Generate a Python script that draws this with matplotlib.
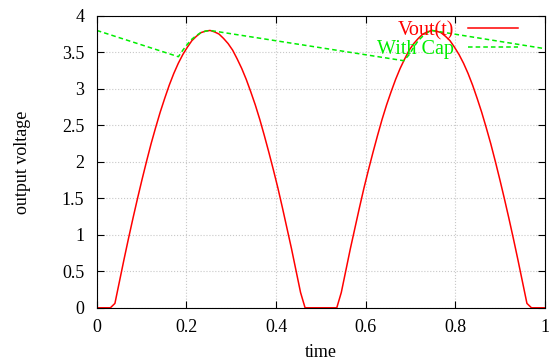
import matplotlib
matplotlib.use("Agg")
import matplotlib.pyplot as plt

plt.rcParams['font.family'] = ['Liberation Serif', 'DejaVu Serif']

# Vout(t) samples (100 points over 0..1)
t = [i / 99 for i in range(100)]
vout_half = [0, 0, 0, 0, 0.06, 0.36, 0.66, 0.95, 1.23, 1.50,
             1.76, 2.01, 2.25, 2.47, 2.68, 2.87, 3.05, 3.21, 3.35, 3.47,
             3.57, 3.66, 3.72, 3.77, 3.79, 3.80, 3.78, 3.75, 3.69, 3.62,
             3.53, 3.41, 3.28, 3.13, 2.96, 2.78, 2.58, 2.36, 2.13, 1.89,
             1.64, 1.37, 1.09, 0.81, 0.51, 0.21, 0, 0, 0, 0]
vout = vout_half + vout_half[::-1]

# capacitor-smoothed output
cap_t = [0.0, 0.182, 0.192, 0.202, 0.212, 0.222, 0.232, 0.242, 0.2525,
         0.685, 0.697, 0.707, 0.717, 0.727, 0.737, 0.747, 1.0]
cap_v = [3.80, 3.44, 3.53, 3.61, 3.68, 3.73, 3.77, 3.79, 3.80,
         3.385, 3.47, 3.57, 3.66, 3.72, 3.77, 3.80, 3.55]

fig, ax = plt.subplots(figsize=(5.5, 3.6), dpi=100)
fig.subplots_adjust(left=0.176, right=0.991, top=0.956, bottom=0.145)

ax.plot(t, vout, color='#ff0000', lw=1.1, label='Vout(t)')
ax.plot(cap_t, cap_v, color='#00ee00', lw=1.1, ls=(0, (3, 2)), label='With Cap')

ax.set_xlim(0, 1)
ax.set_ylim(0, 4)
ax.set_xticks([0, 0.2, 0.4, 0.6, 0.8, 1])
ax.set_xticklabels(['0', '0.2', '0.4', '0.6', '0.8', '1'])
ax.set_yticks([0, 0.5, 1, 1.5, 2, 2.5, 3, 3.5, 4])
ax.set_yticklabels(['0', '0.5', '1', '1.5', '2', '2.5', '3', '3.5', '4'])
ax.tick_params(direction='in', top=True, right=True, labelsize=13, length=5)
ax.tick_params(axis='y', pad=9)
ax.tick_params(axis='x', pad=8)
ax.grid(True, color='#c8c8c8', ls=':', lw=0.8)

ax.set_xlabel('time', fontsize=13, labelpad=6)
ax.set_ylabel('output voltage', fontsize=13, labelpad=22)

leg = ax.legend(loc='upper right', bbox_to_anchor=(0.945, 0.99), frameon=False,
                markerfirst=False, labelcolor='linecolor', fontsize=14.5,
                handlelength=2.5, borderaxespad=0, borderpad=0.1,
                handletextpad=0.7, labelspacing=0.0)

plt.savefig('out.png')
